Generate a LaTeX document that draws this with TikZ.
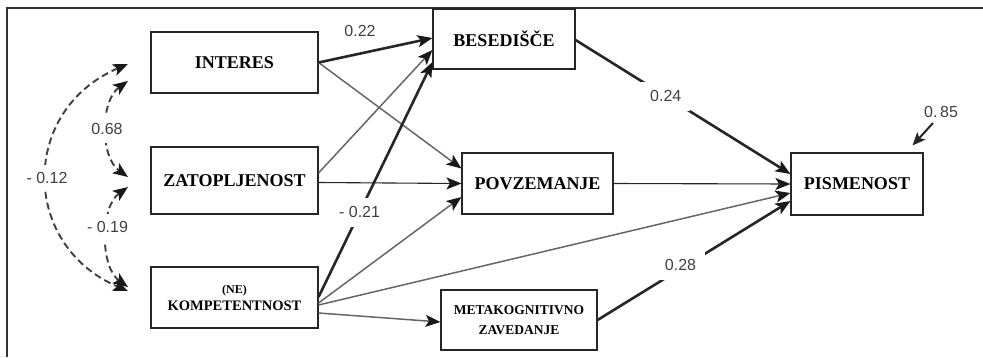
\documentclass[tikz,border=0pt]{standalone}
\usepackage{fontspec}
\setmainfont{Liberation Serif}
\newfontfamily\lblfont{Liberation Sans}
\usetikzlibrary{arrows.meta,calc}
\begin{document}
\begin{tikzpicture}[x=1pt,y=-1pt,
  box/.style={draw=black!85, line width=1.1pt, fill=white, inner sep=0pt,
    font=\fontsize{18}{20}\selectfont\bfseries, text=black},
  tipa/.style={-{Stealth[length=15pt,width=12pt,inset=3.5pt,black!90]}},
  thk/.style={line width=2.6pt, black!85, tipa},
  thn/.style={line width=1.1pt, black!85, tipa},
  gry/.style={line width=1.5pt, black!60, tipa},
  cov/.style={line width=1.9pt, black!75, dash pattern=on 7pt off 4pt,
    {Stealth[length=15pt,width=12pt,inset=3.5pt,black!90]}-{Stealth[length=15pt,width=12pt,inset=3.5pt,black!90]}},
  lbl/.style={font=\lblfont\fontsize{16}{18}\selectfont, text=black!75},
  gap/.style={lbl, fill=white, inner sep=9pt}
]
\useasboundingbox (0,0) rectangle (983,357);
\fill[white] (0,0) rectangle (983,357);
\draw[line width=1.5pt, black!80] (7,357) -- (7,8) -- (983,8);

% boxes
\node[box, minimum width=167pt, minimum height=61pt] (int) at (234.5,62.5) {INTERES};
\node[box, minimum width=167pt, minimum height=67pt] (zat) at (234.5,180.5) {ZATOPLJENOST};
\node[box, minimum width=167pt, minimum height=61pt, align=center,
  font=\fontsize{14.5}{17}\selectfont\bfseries] (kom) at (234.5,297.5)
  {{\fontsize{12}{17}\selectfont (NE)}\\KOMPETENTNOST};
\node[box, minimum width=142pt, minimum height=60pt] (bes) at (504,39) {BESEDIŠČE};
\node[box, minimum width=151pt, minimum height=61pt] (pov) at (537.5,183.5) {POVZEMANJE};
\node[box, minimum width=156pt, minimum height=60pt, align=center,
  font=\fontsize{13.5}{20}\selectfont\bfseries] (met) at (519,320) {METAKOGNITIVNO\\ZAVEDANJE};
\node[box, minimum width=132pt, minimum height=62pt] (pism) at (857,184) {PISMENOST};

% paths
\draw[gry] (int.east) -- ([yshift=15pt]pov.west);
\draw[gry] ([yshift=7.5pt]zat.east) -- ([yshift=-11pt]bes.west);
\draw[gry] ([yshift=-5.5pt]kom.east) -- ([yshift=-13.5pt]pov.west);
\draw[gry] ([yshift=-7.5pt]kom.east) -- ([yshift=-9pt]pism.west);
\draw[gry] ([yshift=-15.5pt]kom.east) -- ([yshift=-2pt]met.west);
\draw[thn] ([yshift=-2pt]zat.east) -- (pov.west);
\draw[thn] (pov.east) -- (pism.west);
\draw[thk] (int.east) -- ([yshift=1pt]bes.west);
\draw[thk] ([yshift=0.5pt]kom.east) -- node[gap, pos=0.36] {- 0.21} ([yshift=-23pt]bes.west);
\draw[thk] ([yshift=-1pt]bes.east) -- node[gap, pos=0.42] {0.24} ([yshift=10pt]pism.west);
\draw[thk] (met.east) -- node[gap, pos=0.43, yshift=4pt] {0.28} ([yshift=-17pt]pism.west);

% residual
\coordinate (r85) at (933,123);
\draw[line width=2pt, black!85, -{Stealth[length=13pt,width=11pt,inset=3pt]}] (r85) -- ([xshift=-11pt,yshift=7pt]pism.north east);
\node[lbl] (l85) at (941,112) {0.\,85};
\node[lbl] (l22) at (360,31) {0.22};

% covariances
\coordinate (i1) at (128,64);
\coordinate (i2) at (128,81);
\coordinate (z1) at (128,177);
\coordinate (z2) at (128,187);
\coordinate (k1) at (128,287);
\coordinate (k2) at (128,291);
\draw[cov] (i1) .. controls (20,110) and (20,245) .. node[lbl, fill=white, inner sep=7pt] {- 0.12} (k2);
\draw[cov] (i2) .. controls (100,101) and (100,157) .. node[lbl, fill=white, inner sep=8pt] {0.68} (z1);
\draw[cov] (z2) .. controls (100,207) and (100,267) .. node[lbl, fill=white, inner sep=8pt, pos=0.42] {- 0.19} (k1);
\end{tikzpicture}
\end{document}
